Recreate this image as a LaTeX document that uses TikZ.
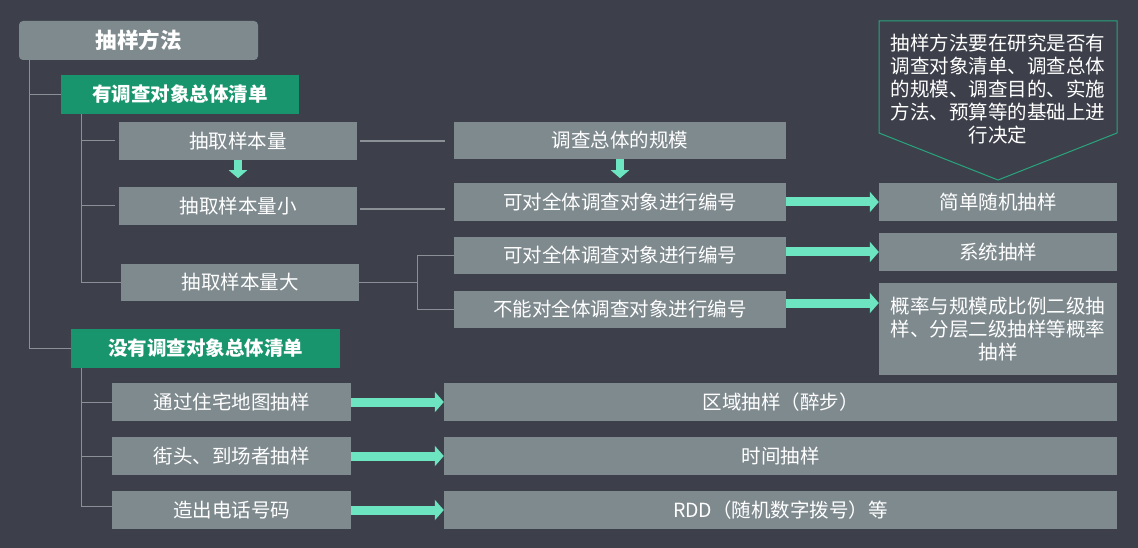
\documentclass[tikz,border=0pt]{standalone}
\usepackage{fontspec}
\setmainfont{Noto Sans CJK SC}
\usetikzlibrary{arrows.meta}
\definecolor{bgc}{HTML}{3D404A}
\definecolor{boxc}{HTML}{7F8A8F}
\definecolor{grpc}{HTML}{18956D}
\definecolor{arrc}{HTML}{6CE5C0}
\definecolor{linec}{HTML}{8A9096}
\tikzset{
    item/.style={fill=boxc, text=white, inner sep=0pt, font=\fontsize{19.5}{23}\selectfont},
    group/.style={fill=grpc, text=white, inner sep=0pt, minimum width=238pt, minimum height=39pt, font=\fontsize{19.5}{23}\selectfont\bfseries},
    tree/.style={draw=linec, line width=1pt},
    link/.style={draw=linec, line width=2pt},
    bigarrow/.style={draw=arrc, line width=9pt, -{Triangle[length=9pt, width=20pt]}},
    downarrow/.style={draw=arrc, line width=8pt, -{Triangle[length=8pt, width=18pt]}},
}
\begin{document}
\begin{tikzpicture}[x=1pt, y=-1pt]
        \fill[bgc] (0,0) rectangle (1138,548);
        \useasboundingbox (0,0) rectangle (1138,548);

        % main title and groups
        \node [fill=boxc, rounded corners=4pt, text=white, inner sep=0pt, minimum width=239pt, minimum height=39pt, font=\fontsize{21.5}{25}\selectfont\bfseries] (title) at (138.5, 40.5) {抽样方法};
        \node [group] (grpA) at (180, 94.5) {有调查对象总体清单};
        \node [group, minimum width=269pt] (grpB) at (205.5, 348.5) {没有调查对象总体清单};

        % with list
        \node [item, minimum width=238pt, minimum height=38pt] (size) at (238, 141) {抽取样本量};
        \node [item, minimum width=238pt, minimum height=38pt] (small) at (238, 206) {抽取样本量小};
        \node [item, minimum width=238pt, minimum height=37pt] (large) at (240, 282.5) {抽取样本量大};
        \node [item, minimum width=332pt, minimum height=37pt] (scale) at (620, 140.5) {调查总体的规模};
        \node [item, minimum width=332pt, minimum height=38pt] (numA) at (620, 202) {可对全体调查对象进行编号};
        \node [item, minimum width=332pt, minimum height=37pt] (numB) at (620, 255.5) {可对全体调查对象进行编号};
        \node [item, minimum width=332pt, minimum height=37pt] (nonum) at (620, 309.5) {不能对全体调查对象进行编号};
        \node [item, minimum width=238pt, minimum height=38pt] (simple) at (998, 202) {简单随机抽样};
        \node [item, minimum width=238pt, minimum height=38pt] (system) at (998, 252) {系统抽样};
        \node [item, minimum width=238pt, minimum height=92pt, align=center] (pps) at (998, 329) {概率与规模成比例二级抽\\样、分层二级抽样等概率\\抽样};

        % without list
        \node [item, minimum width=239pt, minimum height=38pt] (map) at (231.5, 402) {通过住宅地图抽样};
        \node [item, minimum width=239pt, minimum height=38pt] (street) at (231.5, 456) {街头、到场者抽样};
        \node [item, minimum width=239pt, minimum height=38pt] (phone) at (231.5, 510) {造出电话号码};
        \node [item, minimum width=673pt, minimum height=38pt] (area) at (780.5, 402) {区域抽样（醉步）};
        \node [item, minimum width=673pt, minimum height=38pt] (time) at (780.5, 456) {时间抽样};
        \node [item, minimum width=673pt, minimum height=38pt] (rdd) at (780.5, 510) {RDD（随机数字拨号）等};

        % note
        \coordinate (nA) at (879, 21);
        \coordinate (nB) at (1117, 21);
        \coordinate (nC) at (1117, 133);
        \coordinate (nD) at (998, 180);
        \coordinate (nE) at (879, 133);
        \draw [draw=grpc!80!arrc, line width=1pt] (nA) -- (nB) -- (nC) -- (nD) -- (nE) -- cycle;
        \node [text=white, align=center, inner sep=0pt, font=\fontsize{19.5}{23}\selectfont] (note) at (998, 89) {抽样方法要在研究是否有\\调查对象清单、调查总体\\的规模、调查目的、实施\\方法、预算等的基础上进\\行决定};

        % tree lines
        \draw [tree] ([xshift=11pt]title.south west) |- (grpA.west);
        \draw [tree] ([xshift=11pt]title.south west) |- (grpB.west);
        \draw [tree] ([xshift=21pt]grpA.south west) |- ([xshift=-4pt]size.west);
        \draw [tree] ([xshift=21pt]grpA.south west) |- ([xshift=-4pt]small.west);
        \draw [tree] ([xshift=21pt]grpA.south west) |- (large.west);
        \draw [tree] ([xshift=11pt]grpB.south west) |- (map.west);
        \draw [tree] ([xshift=11pt]grpB.south west) |- (street.west);
        \draw [tree] ([xshift=11pt]grpB.south west) |- ([yshift=4pt]phone.west);
        \draw [tree] (large.east) -- ++(58,0) |- (numB.west);
        \draw [tree] (large.east) -- ++(58,0) |- (nonum.west);

        % links
        \draw [link] ([xshift=3pt]size.east) -- ([xshift=-9pt]size.east -| scale.west);
        \draw [link] ([xshift=3pt, yshift=-3pt]small.east) -- ([xshift=-9pt, yshift=-3pt]small.east -| numA.west);

        % arrows
        \draw [downarrow] (size.south) -- ++(0,18);
        \draw [downarrow] (scale.south) -- ++(0,19);
        \draw [bigarrow] (numA.east) -- (simple.west);
        \draw [bigarrow] (numB.east |- system.west) -- (system.west);
        \draw [bigarrow] (nonum.east |- 0,303) -- (pps.west |- 0,303);
        \draw [bigarrow] (map.east) -- (area.west);
        \draw [bigarrow] (street.east) -- (time.west);
        \draw [bigarrow] (phone.east) -- (rdd.west);

    \end{tikzpicture}
\end{document}
